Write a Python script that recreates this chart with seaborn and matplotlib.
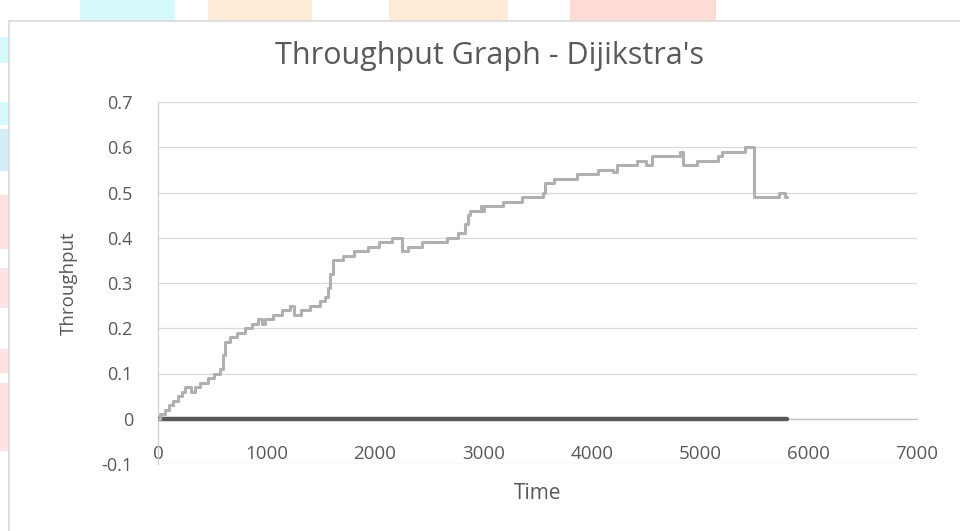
import numpy as np
import pandas as pd
import matplotlib
matplotlib.use("Agg")
import matplotlib.pyplot as plt
import seaborn as sns
from matplotlib.patches import Rectangle

# step changes of the throughput curve (time, value)
time = [0, 20, 60, 100, 140, 180, 220, 250, 300, 340, 390, 460, 520, 570,
        600, 615, 665, 730, 800, 865, 920, 960, 990, 1060, 1140, 1220, 1250,
        1320, 1400, 1490, 1540, 1570, 1590, 1610, 1710, 1810, 1940, 2040,
        2155, 2250, 2310, 2435, 2665, 2770, 2830, 2860, 2880, 2975, 2990,
        3010, 3185, 3360, 3550, 3570, 3650, 3860, 4060, 4200, 4230, 4415,
        4500, 4555, 4815, 4845, 4970, 5165, 5200, 5415, 5500, 5730, 5780, 5800]
throughput = [0.0, 0.01, 0.02, 0.03, 0.04, 0.05, 0.06, 0.07, 0.06, 0.07, 0.08,
              0.09, 0.10, 0.11, 0.14, 0.17, 0.18, 0.19, 0.20, 0.21, 0.22, 0.21,
              0.22, 0.23, 0.24, 0.25, 0.23, 0.24, 0.25, 0.26, 0.27, 0.29, 0.32,
              0.35, 0.36, 0.37, 0.38, 0.39, 0.40, 0.37, 0.38, 0.39, 0.40, 0.41,
              0.43, 0.45, 0.46, 0.47, 0.46, 0.47, 0.48, 0.49, 0.50, 0.52, 0.53,
              0.54, 0.55, 0.545, 0.56, 0.57, 0.56, 0.58, 0.59, 0.56, 0.57, 0.58,
              0.59, 0.60, 0.49, 0.50, 0.49, 0.49]

baseline_time = [0, 5800]
baseline_value = [0, 0]

x_ticks = [0, 1000, 2000, 3000, 4000, 5000, 6000, 7000]
y_ticks = [-0.1, 0, 0.1, 0.2, 0.3, 0.4, 0.5, 0.6, 0.7]
y_tick_labels = ["-0.1", "0", "0.1", "0.2", "0.3", "0.4", "0.5", "0.6", "0.7"]

TEXT = "#595959"
GRID = "#D9D9D9"

sns.set_style("white")
plt.rcParams["font.family"] = ["Open Sans", "DejaVu Sans"]

W, H = 960, 531
fig = plt.figure(figsize=(9.6, 5.31), dpi=100)
ax = fig.add_axes([158 / W, 1 - 464 / H, (917 - 158) / W, (464 - 102) / H])


def px_rect(x0, y0, x1, y1, color):
    # faint page watermark behind the chart frame, pixel box -> figure coords
    fig.patches.append(Rectangle((x0 / W, 1 - y1 / H), (x1 - x0) / W, (y1 - y0) / H,
                                 transform=fig.transFigure, color=color, lw=0, zorder=0))


px_rect(80, 0, 175, 21, "#D4FAFC")
px_rect(208, 0, 312, 21, "#FDEBD8")
px_rect(389, 0, 508, 21, "#FDEBD8")
px_rect(570, 0, 716, 21, "#FDDCD6")
px_rect(0, 37, 8, 63, "#D4FAFC")
px_rect(0, 102, 8, 125, "#D4FAFC")
px_rect(0, 129, 8, 171, "#D3EEF8")
px_rect(0, 195, 8, 249, "#FDE3E3")
px_rect(0, 268, 8, 308, "#FDE3E3")
px_rect(0, 349, 8, 373, "#FDE3E3")
px_rect(0, 383, 8, 451, "#FDE3E3")

# chart frame
fig.patches.append(Rectangle((9 / W, -0.01), 960 / W, 1.01 - 21 / H, transform=fig.transFigure,
                             fill=False, edgecolor="#D9D9D9", lw=1.2, zorder=1))

df = pd.DataFrame({"time": time, "throughput": throughput})
base = pd.DataFrame({"time": baseline_time, "throughput": baseline_value})

sns.lineplot(data=base, x="time", y="throughput", color="#595959", lw=3.2,
             estimator=None, ax=ax, zorder=3)
sns.lineplot(data=df, x="time", y="throughput", color="#B0B0B0", lw=2.2,
             estimator=None, drawstyle="steps-post", ax=ax, zorder=4)

ax.set_xlim(0, 7000)
ax.set_ylim(-0.1, 0.7)
ax.set_xticks(x_ticks)
ax.set_xticklabels([str(v) for v in x_ticks])
ax.set_yticks(y_ticks)
ax.set_yticklabels(y_tick_labels)
ax.grid(axis="y", color=GRID, lw=0.9)
ax.set_axisbelow(True)

for side in ["top", "right"]:
    ax.spines[side].set_visible(False)
ax.spines["bottom"].set_position(("data", 0))
ax.spines["bottom"].set_color("#BFBFBF")
ax.spines["bottom"].set_linewidth(0.9)
ax.spines["left"].set_color("#D0D0D0")
ax.spines["left"].set_linewidth(0.9)

ax.tick_params(axis="x", length=0, pad=19, labelsize=13.5, colors=TEXT)
ax.tick_params(axis="y", length=0, pad=18, labelsize=13, colors=TEXT)

ax.set_xlabel("Time", fontsize=15, color=TEXT)
ax.set_ylabel("Throughput", fontsize=13.5, color=TEXT)
ax.xaxis.set_label_coords(0.5, -0.052)
ax.yaxis.set_label_coords(-0.105, 0.5)

fig.text(490 / W, 1 - 56 / H, "Throughput Graph - Dijikstra's", ha="center", va="center",
         fontsize=22, color=TEXT)

plt.savefig("out.png", dpi=100)
plt.close()
